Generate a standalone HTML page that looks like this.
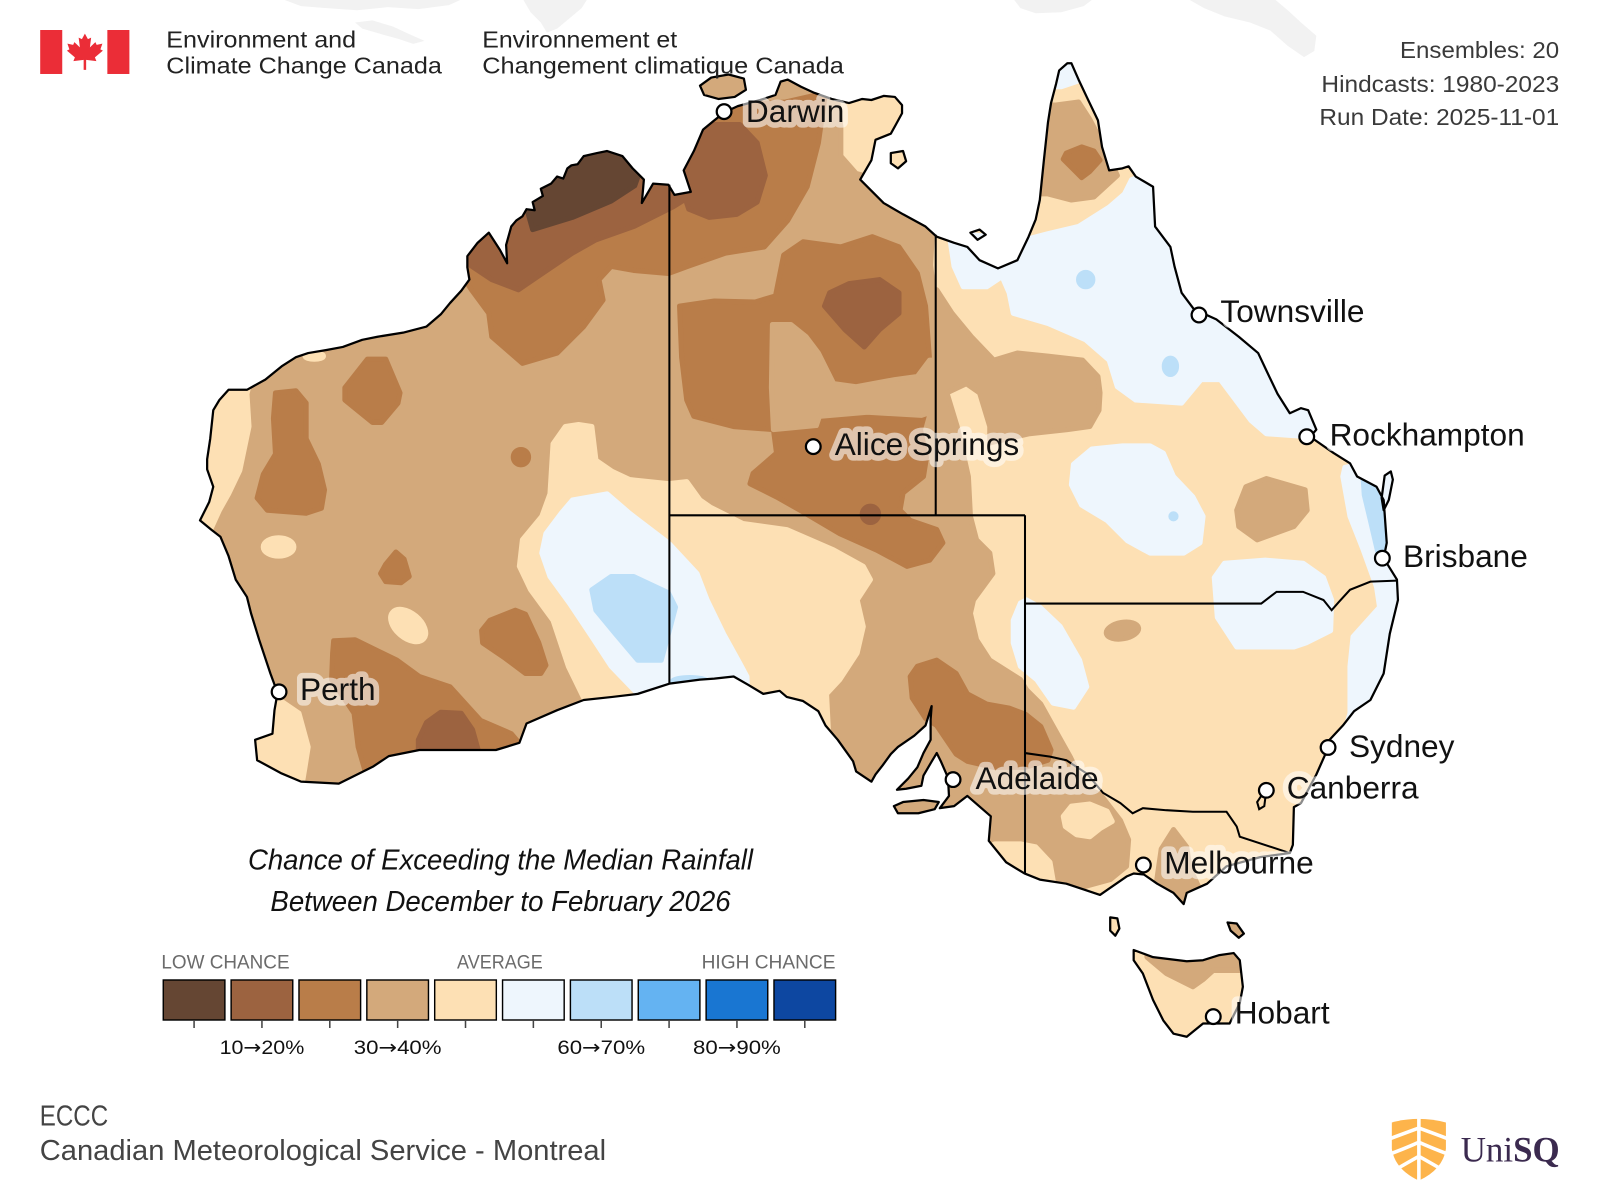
<!DOCTYPE html>
<html>
<head>
<meta charset="utf-8">
<style>
html,body{margin:0;padding:0;background:#fff;}
svg{display:block;}
</style>
</head>
<body>
<svg xmlns="http://www.w3.org/2000/svg" width="1600" height="1200" viewBox="0 0 1568 1176" preserveAspectRatio="none">
<style>
.c1{fill:#654633;stroke:#654633}
.c2{fill:#9c6340;stroke:#9c6340}
.c3{fill:#b97d49;stroke:#b97d49}
.c4{fill:#d3a97b;stroke:#d3a97b}
.c5{fill:#fde0b4;stroke:#fde0b4}
.c6{fill:#eef6fd;stroke:#eef6fd}
.c7{fill:#bcdff8;stroke:#bcdff8}
.rg path,.rg ellipse,.rg circle{stroke-width:5;stroke-linejoin:round}
.lab{font-family:"Liberation Sans","DejaVu Sans",sans-serif;font-size:31px;fill:#111}
.halo{font-family:"Liberation Sans","DejaVu Sans",sans-serif;font-size:31px;fill:#fff;stroke:#fff;stroke-width:11;stroke-linejoin:round;opacity:0.55}
.mk{fill:#fff;stroke:#000;stroke-width:2.2}
.bd{fill:none;stroke:#000;stroke-width:2}
.sans{font-family:"Liberation Sans","DejaVu Sans",sans-serif}
</style>
<defs>
<clipPath id="land">
<path d="M207,519 L196,510 205,492 209,477 203,460 203,450 206,430 209,402 215,392 224,382 242,382 260,372 276,359 290,350 302,346 320,343 336,340 355,333 370,330 395,326 418,320 432,308 441,297 452,285 460,274 458,262 458,251 468,238 479,228 490,245 497,258 496,240 501,222 506,216 512,212 516,205 524,206 522,198 532,192 530,185 540,180 546,173 552,175 556,165 560,162 566,161 572,153 585,150 595,148 610,153 620,165 631,176 629,199 640,180 655,181 661,191 677,188 670,167 680,148 689,127 700,118 710,110 723,104 745,98 760,93 765,80 772,78 785,85 798,91 815,97 832,101 845,97 854,98 866,94 877,95 884,103 884,111 878,122 873,131 858,137 856,147 854,157 843,176 854,187 866,199 885,210 907,222 918,232 935,238 948,242 960,255 978,263 997,255 1008,232 1015,215 1019,196 1023,157 1027,120 1030,101 1035,82 1038,69 1046,62 1050,62 1057,78 1065,95 1076,118 1080,144 1087,167 1100,165 1106,163 1113,173 1130,183 1132,222 1147,242 1151,261 1158,287 1170,303 1192,313 1214,330 1233,346 1241,363 1252,386 1264,405 1275,400 1282,402 1290,421 1284,428 1307,444 1323,454 1330,467 1349,477 1356,490 1359,532 1356,547 1369,568 1370,588 1362,621 1356,660 1343,686 1327,697 1316,711 1303,725 1302,732 1290,759 1275,787 1268,791 1267,828 1264,836 1235,840 1202,849 1183,866 1163,875 1160,886 1150,875 1134,866 1121,857 1111,856 1104,859 1078,877 1045,866 1019,862 1004,856 986,845 969,824 971,800 948,780 935,790 921,792 930,780 929,762 922,746 918,738 912,748 905,760 903,770 888,773 879,774 890,763 899,752 905,738 912,725 912,705 913,692 907,711 896,721 880,732 873,739 865,750 858,759 854,766 839,756 836,746 821,725 809,711 802,697 787,687 771,683 764,677 748,680 733,671 719,663 700,665 686,666 656,670 625,680 600,683 572,686 546,696 516,709 509,728 486,735 450,735 411,735 381,741 366,751 332,768 295,766 276,758 252,745 250,725 267,719 269,696 272,679 265,660 254,627 246,601 242,585 231,568 224,545 216,526 Z
M1111,931 L1130,938 1163,942 1179,941 1195,936 1209,934 1215,941 1218,967 1215,983 1205,1003 1192,1003 1179,1003 1163,1016 1150,1013 1140,1000 1130,980 1120,954 1111,941 Z
M876,790 L885,786 905,784 920,786 916,793 900,797 880,797 Z
M686,84 L697,76 714,73 729,77 731,88 720,95 704,97 690,93 Z
M873,150 L885,148 888,158 880,165 873,160 Z
M951,228 L960,225 966,230 958,235 Z
M1088,899 L1095,900 1097,910 1093,917 1088,912 Z
M1203,904 L1212,905 1219,915 1214,919 1206,912 Z
M1357,466 L1363,462 1365,470 1361,490 1356,500 1354,488 Z"/>
</clipPath>
</defs>

<rect x="0" y="0" width="1568" height="1176" fill="#fff"/>

<!-- faint background landmasses -->
<g fill="#f2f2f2">
<path d="M279,0 L451,0 440,5 410,9 380,7 350,10 320,8 295,6 Z"/>
<path d="M348,22 L365,20 385,26 400,33 416,40 405,43 390,38 372,33 355,28 Z"/>
<path d="M513,0 L575,0 570,8 558,18 546,28 536,32 530,22 520,12 Z"/>
<path d="M994,0 L1070,0 1062,6 1040,12 1015,13 1000,8 Z"/>
<path d="M1166,0 L1250,0 1262,10 1275,22 1290,35 1288,50 1278,56 1262,45 1245,30 1225,22 1200,16 1180,8 Z"/>
</g>

<!-- map colour fields -->
<g clip-path="url(#land)">
<rect x="0" y="0" width="1568" height="1176" fill="#fde0b4"/>
<g class="rg">
<path class="c4" d="M100,40 L828,40 821,100 824,124 824,153 839,170 877,180 911,206 914,222 912,260 915,284 918,284 933,307 952,330 974,353 997,346 1027,349 1061,353 1076,369 1078,385 1077,402 1068,418 1046,421 1009,425 970,434 970,418 960,385 947,376 928,385 938,418 949,467 951,506 957,529 970,542 973,562 954,588 951,601 957,627 970,647 1000,666 1006,676 1020,690 1030,708 1049,742 1064,773 1078,778 1098,804 1106,823 1104,849 1088,862 1062,869 1062,960 100,960 Z"/>
<path class="c5" d="M170,360 L245,374 242,386 244,418 235,461 224,484 215,500 205,522 170,522 Z"/>
<path class="c5" d="M235,672 L262,678 274,686 293,699 302,732 299,751 295,775 235,775 Z"/>
<ellipse class="c5" cx="273" cy="536" rx="15" ry="9"/>
<ellipse class="c5" cx="400" cy="613" rx="20" ry="12" transform="rotate(40 400 613)"/>
<ellipse class="c5" cx="308" cy="349" rx="9" ry="3"/>
<path class="c5" d="M575,690 L557,653 542,608 520,578 509,555 512,529 531,506 539,484 542,435 554,418 567,416 580,418 584,451 600,462 617,470 655,474 673,472 686,490 696,497 728,513 771,519 817,539 846,555 853,568 840,588 846,614 840,640 823,666 810,680 812,720 575,720 Z"/>
<path class="c5" d="M1042,800 L1050,790 1068,788 1085,795 1090,805 1078,812 1068,820 1055,818 1044,810 Z"/>
<path class="c5" d="M955,836 L975,827 1000,827 1015,830 1029,845 1035,880 950,880 Z"/>
<path class="c6" d="M561,490 L595,484 617,503 651,529 656,533 683,562 693,588 709,621 725,650 732,663 733,700 625,700 625,680 599,653 580,624 558,591 539,565 531,542 535,523 550,503 Z"/>
<path class="c7" d="M580,578 L599,565 621,565 655,581 662,595 657,614 648,647 625,647 603,621 584,598 Z"/>
<ellipse class="c7" cx="676" cy="668" rx="17" ry="4"/>
<path class="c6" d="M930,228 L1004,235 1027,229 1057,222 1087,203 1102,190 1109,176 1140,165 1320,420 1300,430 1283,428 1241,425 1226,412 1196,372 1177,372 1158,395 1113,392 1095,379 1087,353 1064,333 1027,317 993,307 989,287 982,271 967,281 944,281 935,261 Z"/>
<path class="c6" d="M1318,458 L1316,467 1323,506 1336,539 1349,575 1352,595 1326,624 1323,653 1323,699 1318,716 1420,716 1420,440 Z"/>
<path class="c7" d="M1336,470 L1345,472 1352,490 1356,520 1356,540 1350,540 1343,510 1337,485 Z"/>
<path class="c6" d="M1052,455 L1070,440 1100,437 1127,437 1140,444 1150,467 1169,487 1179,506 1176,532 1160,542 1127,542 1105,530 1085,510 1060,495 1050,475 Z"/>
<circle class="c7" cx="1150" cy="506" r="2.5"/>
<path class="c6" d="M1190,566 L1200,552 1240,549 1277,552 1297,566 1305,588 1304,618 1280,630 1268,634 1212,634 1193,605 Z"/>
<path class="c6" d="M1006,588 L1019,595 1039,614 1058,647 1065,673 1052,693 1032,689 1016,666 1000,653 993,630 993,608 1000,591 Z"/>
<ellipse class="c7" cx="1064" cy="274" rx="7" ry="7"/>
<ellipse class="c7" cx="1147" cy="359" rx="6" ry="8"/>
<path class="c6" d="M1030,55 L1060,55 1055,80 1040,85 1030,85 Z"/>
<path class="c4" d="M1000,104 L1034,103 1057,100 1068,117 1080,140 1095,172 1072,193 1050,196 1027,190 1000,190 Z"/>
<path class="c3" d="M1045,150 L1060,144 1072,148 1078,157 1068,168 1060,174 1050,164 1042,156 Z"/>
<path class="c4" d="M1221,477 L1241,469 1279,480 1281,500 1268,516 1232,529 1214,516 1212,500 Z"/>
<ellipse class="c4" cx="1100" cy="618" rx="16" ry="8" transform="rotate(-10 1100 618)"/>
<path class="c4" d="M1138,832 L1150,813 1163,830 1166,850 1176,872 1176,900 1128,900 1134,860 Z"/>
<path class="c4" d="M1124,900 L1230,900 1230,950 1215,951 1189,951 1179,960 1169,967 1143,954 1124,938 Z"/>
<path class="c3" d="M440,130 L650,130 690,110 735,102 770,100 809,91 802,140 791,183 772,216 749,242 711,248 674,261 655,268 621,265 599,261 587,274 591,294 572,320 546,346 512,356 482,330 479,307 462,284 440,250 Z"/>
<path class="c3" d="M666,300 L700,295 740,296 760,290 768,250 787,237 824,242 855,232 881,242 899,268 907,300 911,353 912,385 902,421 908,448 905,467 885,483 882,500 892,510 918,519 924,532 911,549 889,555 859,539 823,523 784,500 761,487 735,474 738,464 761,444 758,421 719,418 680,408 673,392 668,350 Z"/>
<path class="c4" d="M757,318 L775,318 790,330 802,346 817,376 839,379 877,372 899,369 911,353 918,353 918,402 903,407 850,404 803,408 800,417 758,421 756,380 Z"/>
<path class="c3" d="M892,663 L899,653 918,647 937,660 948,680 967,690 989,694 1005,700 1020,712 1030,735 1027,745 1005,752 974,752 948,746 937,739 918,711 907,704 894,684 Z"/>
<path class="c3" d="M360,352 L378,352 392,385 390,395 374,414 365,414 338,392 338,380 Z"/>
<path class="c3" d="M270,385 L290,383 300,395 300,430 312,455 318,480 315,498 300,503 262,500 252,488 258,465 270,445 268,410 Z"/>
<circle class="c3" cx="510.5" cy="448" r="7.5"/>
<path class="c3" d="M388,541 L396,548 401,565 393,571 378,570 373,562 378,553 Z"/>
<path class="c3" d="M480,608 L505,598 515,602 528,630 535,652 530,660 515,660 495,645 473,630 472,618 Z"/>
<path class="c3" d="M327,628 L348,627 389,647 411,663 441,673 471,706 501,719 512,732 515,770 362,770 351,732 347,699 325,666 326,640 Z"/>
<path class="c2" d="M440,240 L455,256 482,274 508,284 527,271 561,248 584,235 621,222 659,203 672,195 680,170 655,130 540,130 Z"/>
<path class="c2" d="M670,190 L676,140 700,122 725,122 742,140 750,172 742,198 722,210 695,213 675,205 Z"/>
<path class="c2" d="M813,287 L832,278 862,274 881,287 881,307 862,323 847,340 828,323 808,300 Z"/>
<circle class="c2" cx="853" cy="504" r="8"/>
<path class="c2" d="M418,708 L432,698 452,699 463,715 470,740 470,770 410,770 410,725 Z"/>
<path class="c1" d="M522,225 L561,213 599,197 622,182 628,165 620,130 540,130 515,200 Z"/>
</g>
</g>

<!-- coastline -->
<path fill="none" stroke="#000" stroke-width="2.2" stroke-linejoin="round" d="M207,519 L196,510 205,492 209,477 203,460 203,450 206,430 209,402 215,392 224,382 242,382 260,372 276,359 290,350 302,346 320,343 336,340 355,333 370,330 395,326 418,320 432,308 441,297 452,285 460,274 458,262 458,251 468,238 479,228 490,245 497,258 496,240 501,222 506,216 512,212 516,205 524,206 522,198 532,192 530,185 540,180 546,173 552,175 556,165 560,162 566,161 572,153 585,150 595,148 610,153 620,165 631,176 629,199 640,180 655,181 661,191 677,188 670,167 680,148 689,127 700,118 710,110 723,104 745,98 760,93 765,80 772,78 785,85 798,91 815,97 832,101 845,97 854,98 866,94 877,95 884,103 884,111 878,122 873,131 858,137 856,147 854,157 843,176 854,187 866,199 885,210 907,222 918,232 935,238 948,242 960,255 978,263 997,255 1008,232 1015,215 1019,196 1023,157 1027,120 1030,101 1035,82 1038,69 1046,62 1050,62 1057,78 1065,95 1076,118 1080,144 1087,167 1100,165 1106,163 1113,173 1130,183 1132,222 1147,242 1151,261 1158,287 1170,303 1192,313 1214,330 1233,346 1241,363 1252,386 1264,405 1275,400 1282,402 1290,421 1284,428 1307,444 1323,454 1330,467 1349,477 1356,490 1359,532 1356,547 1369,568 1370,588 1362,621 1356,660 1343,686 1327,697 1316,711 1303,725 1302,732 1290,759 1275,787 1268,791 1267,828 1264,836 1235,840 1202,849 1183,866 1163,875 1160,886 1150,875 1134,866 1121,857 1111,856 1104,859 1078,877 1045,866 1019,862 1004,856 986,845 969,824 971,800 948,780 935,790 921,792 930,780 929,762 922,746 918,738 912,748 905,760 903,770 888,773 879,774 890,763 899,752 905,738 912,725 912,705 913,692 907,711 896,721 880,732 873,739 865,750 858,759 854,766 839,756 836,746 821,725 809,711 802,697 787,687 771,683 764,677 748,680 733,671 719,663 700,665 686,666 656,670 625,680 600,683 572,686 546,696 516,709 509,728 486,735 450,735 411,735 381,741 366,751 332,768 295,766 276,758 252,745 250,725 267,719 269,696 272,679 265,660 254,627 246,601 242,585 231,568 224,545 216,526 Z
M1111,931 L1130,938 1163,942 1179,941 1195,936 1209,934 1215,941 1218,967 1215,983 1205,1003 1192,1003 1179,1003 1163,1016 1150,1013 1140,1000 1130,980 1120,954 1111,941 Z
M876,790 L885,786 905,784 920,786 916,793 900,797 880,797 Z
M686,84 L697,76 714,73 729,77 731,88 720,95 704,97 690,93 Z
M873,150 L885,148 888,158 880,165 873,160 Z
M951,228 L960,225 966,230 958,235 Z
M1088,899 L1095,900 1097,910 1093,917 1088,912 Z
M1203,904 L1212,905 1219,915 1214,919 1206,912 Z
M1357,466 L1363,462 1365,470 1361,490 1356,500 1354,488 Z"/>

<!-- state borders -->
<g class="bd">
<path d="M656,181 L656,670"/>
<path d="M656,505 L1004.5,505"/>
<path d="M917,230 L917,505"/>
<path d="M1004.5,505 L1004.5,856"/>
<path d="M1004.5,591.5 L1236,591.5 1251,580 1277,580 1297,588 1305,598 1312,590 1323,578 1343,570 1369,569"/>
<path d="M1004.5,738 L1029,741.5 1045,745 1065,758 1081,777 1098,787 1110,797 1120,792 1143,794 1169,795.5 1202,795.5 1212,810 1215,820 1264,836"/>
<path d="M1236,780 L1240,782 1239,790 1234,793 1232,786 Z"/>
</g>

<!-- city labels -->
<g>
<text class="halo" x="731" y="119.6">Darwin</text>
<text class="halo" x="818" y="446">Alice Springs</text>
<text class="halo" x="1196" y="315.5">Townsville</text>
<text class="halo" x="1303" y="436.5">Rockhampton</text>
<text class="halo" x="1375" y="555.5">Brisbane</text>
<text class="halo" x="1322" y="742">Sydney</text>
<text class="halo" x="1261" y="782.5">Canberra</text>
<text class="halo" x="1141" y="856">Melbourne</text>
<text class="halo" x="956" y="773">Adelaide</text>
<text class="halo" x="294" y="686">Perth</text>
<text class="halo" x="1210" y="1003">Hobart</text>
</g>
<g>
<circle class="mk" cx="709.6" cy="109.4" r="7.2"/>
<circle class="mk" cx="797" cy="437.7" r="7.2"/>
<circle class="mk" cx="1175" cy="308.7" r="7.2"/>
<circle class="mk" cx="1280.6" cy="428" r="7.2"/>
<circle class="mk" cx="1354.7" cy="547" r="7.2"/>
<circle class="mk" cx="1301.5" cy="732.5" r="7.2"/>
<circle class="mk" cx="1241" cy="774.5" r="7.2"/>
<circle class="mk" cx="1120.5" cy="847.7" r="7.2"/>
<circle class="mk" cx="934" cy="764" r="7.2"/>
<circle class="mk" cx="273.5" cy="678" r="7.2"/>
<circle class="mk" cx="1189" cy="996.3" r="7.2"/>
</g>
<g>
<text class="lab" x="731" y="119.6">Darwin</text>
<text class="lab" x="818" y="446">Alice Springs</text>
<text class="lab" x="1196" y="315.5">Townsville</text>
<text class="lab" x="1303" y="436.5">Rockhampton</text>
<text class="lab" x="1375" y="555.5">Brisbane</text>
<text class="lab" x="1322" y="742">Sydney</text>
<text class="lab" x="1261" y="782.5">Canberra</text>
<text class="lab" x="1141" y="856">Melbourne</text>
<text class="lab" x="956" y="773">Adelaide</text>
<text class="lab" x="294" y="686">Perth</text>
<text class="lab" x="1210" y="1003">Hobart</text>
</g>

<!-- header: flag -->
<rect x="39.4" y="29.4" width="21.6" height="43.1" fill="#eb2d37"/>
<rect x="105.2" y="29.4" width="21.6" height="43.1" fill="#eb2d37"/>
<path fill="#eb2d37" transform="translate(83.2 57.5) scale(24.5)" d="M0,-1 L0.12,-0.78 0.25,-0.84 0.2,-0.45 0.42,-0.66 0.47,-0.55 0.7,-0.6 0.62,-0.37 0.72,-0.32 0.4,-0.05 0.46,0.1 0.05,0.05 0.05,0.45 -0.05,0.45 -0.05,0.05 -0.46,0.1 -0.4,-0.05 -0.72,-0.32 -0.62,-0.37 -0.7,-0.6 -0.47,-0.55 -0.42,-0.66 -0.2,-0.45 -0.25,-0.84 -0.12,-0.78 Z"/>
<g class="sans" font-size="22.5" fill="#222">
<text x="163" y="46.7" textLength="186" lengthAdjust="spacingAndGlyphs">Environment and</text>
<text x="163" y="72" textLength="270" lengthAdjust="spacingAndGlyphs">Climate Change Canada</text>
<text x="472.6" y="46.7" textLength="191" lengthAdjust="spacingAndGlyphs">Environnement et</text>
<text x="472.6" y="72" textLength="354.4" lengthAdjust="spacingAndGlyphs">Changement climatique Canada</text>
</g>

<!-- run info -->
<g class="sans" font-size="23" fill="#3a3a3a" text-anchor="end">
<text x="1528" y="57" textLength="156" lengthAdjust="spacingAndGlyphs">Ensembles: 20</text>
<text x="1528" y="90" textLength="233" lengthAdjust="spacingAndGlyphs">Hindcasts: 1980-2023</text>
<text x="1528" y="122.5" textLength="235" lengthAdjust="spacingAndGlyphs">Run Date: 2025-11-01</text>
</g>

<!-- title -->
<g class="sans" font-size="28" font-style="italic" fill="#111">
<text x="243" y="852" textLength="495" lengthAdjust="spacingAndGlyphs">Chance of Exceeding the Median Rainfall</text>
<text x="265" y="893" textLength="451" lengthAdjust="spacingAndGlyphs">Between December to February 2026</text>
</g>

<!-- legend -->
<g class="sans" font-size="19" fill="#6b6b6b">
<text x="158.2" y="949" textLength="125.6" lengthAdjust="spacingAndGlyphs">LOW CHANCE</text>
<text x="447.9" y="949" textLength="84" lengthAdjust="spacingAndGlyphs">AVERAGE</text>
<text x="687.6" y="949" textLength="131.2" lengthAdjust="spacingAndGlyphs">HIGH CHANCE</text>
</g>
<g stroke="#000" stroke-width="1.4">
<rect x="160" y="960.4" width="60.4" height="39.2" fill="#654633"/>
<rect x="226.5" y="960.4" width="60.4" height="39.2" fill="#9c6340"/>
<rect x="293" y="960.4" width="60.4" height="39.2" fill="#b97d49"/>
<rect x="359.5" y="960.4" width="60.4" height="39.2" fill="#d3a97b"/>
<rect x="426" y="960.4" width="60.4" height="39.2" fill="#fde0b4"/>
<rect x="492.5" y="960.4" width="60.4" height="39.2" fill="#eef6fd"/>
<rect x="559" y="960.4" width="60.4" height="39.2" fill="#bcdff8"/>
<rect x="625.5" y="960.4" width="60.4" height="39.2" fill="#64b3f2"/>
<rect x="692" y="960.4" width="60.4" height="39.2" fill="#1976d2"/>
<rect x="758.5" y="960.4" width="60.4" height="39.2" fill="#0d47a1"/>
</g>
<g stroke="#444" stroke-width="1.5">
<path d="M190.2,999.6 V1007.5 M256.7,999.6 V1007.5 M323.2,999.6 V1007.5 M389.7,999.6 V1007.5 M456.2,999.6 V1007.5 M522.7,999.6 V1007.5 M589.2,999.6 V1007.5 M655.7,999.6 V1007.5 M722.2,999.6 V1007.5 M788.7,999.6 V1007.5"/>
</g>
<g class="sans" font-size="19" fill="#111" text-anchor="middle">
<text x="256.7" y="1033" textLength="83" lengthAdjust="spacingAndGlyphs">10<tspan font-family="DejaVu Sans">→</tspan>20%</text>
<text x="389.7" y="1033" textLength="86" lengthAdjust="spacingAndGlyphs">30<tspan font-family="DejaVu Sans">→</tspan>40%</text>
<text x="589.2" y="1033" textLength="86" lengthAdjust="spacingAndGlyphs">60<tspan font-family="DejaVu Sans">→</tspan>70%</text>
<text x="722.2" y="1033" textLength="86" lengthAdjust="spacingAndGlyphs">80<tspan font-family="DejaVu Sans">→</tspan>90%</text>
</g>

<!-- footer -->
<g class="sans" font-size="28" fill="#444">
<text x="39" y="1103" textLength="67" lengthAdjust="spacingAndGlyphs">ECCC</text>
<text x="39" y="1137" textLength="555" lengthAdjust="spacingAndGlyphs">Canadian Meteorological Service - Montreal</text>
</g>

<!-- UniSQ logo -->
<path fill="#fdb44b" d="M1364,1100 Q1390,1093 1417,1100 L1417,1126 Q1414,1146 1390.5,1157 Q1367,1146 1364,1126 Z"/>
<g fill="none" stroke="#fff" stroke-width="3.5" stroke-linecap="round">
<path d="M1390.5,1096 L1390.5,1158"/>
<path d="M1389,1106 Q1378,1110 1362,1116"/>
<path d="M1389,1120 Q1378,1125 1362,1131"/>
<path d="M1389,1134 Q1380,1139 1368,1146"/>
<path d="M1392,1106 Q1403,1110 1419,1116"/>
<path d="M1392,1120 Q1403,1125 1419,1131"/>
<path d="M1392,1134 Q1401,1139 1413,1146"/>
</g>
<text x="1431.5" y="1138.4" font-family="Liberation Serif, DejaVu Serif, serif" font-size="35" fill="#3b2a4f" textLength="97" lengthAdjust="spacingAndGlyphs">Uni<tspan font-weight="bold">SQ</tspan></text>
</svg>
</body>
</html>
